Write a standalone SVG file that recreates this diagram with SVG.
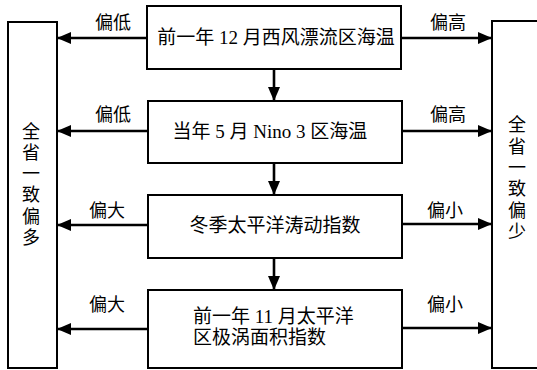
<svg xmlns="http://www.w3.org/2000/svg" width="537" height="370" viewBox="0 0 537 370">
<style>
.box{fill:#fff;stroke:#000;stroke-width:2}
.t{font-family:"Liberation Serif","Noto Sans CJK SC",serif;font-size:18px;fill:#000}
.b{font-size:19px}
.c{text-anchor:middle}
.conn line{stroke:#000;stroke-width:2.6}
</style>
<defs>
<marker id="ah" markerWidth="14" markerHeight="12" refX="13" refY="6" orient="auto" markerUnits="userSpaceOnUse">
<path d="M0,0 L14,6 L0,12 Z" fill="#000"/>
</marker>
</defs>
<rect width="537" height="370" fill="#fff"/>
<g id="left">
<rect class="box" x="8" y="22" width="49" height="346"/>
<text class="t c" x="31" y="138">全</text>
<text class="t c" x="31" y="159">省</text>
<text class="t c" x="31" y="180">一</text>
<text class="t c" x="31" y="201">致</text>
<text class="t c" x="31" y="223">偏</text>
<text class="t c" x="31" y="244">多</text>
</g>
<g id="right">
<rect class="box" x="492" y="21" width="50" height="347"/>
<text class="t c" x="517" y="131">全</text>
<text class="t c" x="517" y="153">省</text>
<text class="t c" x="517" y="174">一</text>
<text class="t c" x="517" y="195">致</text>
<text class="t c" x="517" y="217">偏</text>
<text class="t c" x="517" y="238">少</text>
</g>
<g id="n1">
<rect class="box" x="147" y="6" width="254" height="63"/>
<text class="t b c" x="276" y="44">前一年 12 月西风漂流区海温</text>
</g>
<g id="n2">
<rect class="box" x="148" y="101" width="254" height="62"/>
<text class="t b c" x="270" y="138">当年 5 月 Nino 3 区海温</text>
</g>
<g id="n3">
<rect class="box" x="148" y="195" width="254" height="63"/>
<text class="t b c" x="275" y="232">冬季太平洋涛动指数</text>
</g>
<g id="n4">
<rect class="box" x="148" y="290" width="254" height="78"/>
<text class="t b" x="193" y="323">前一年 11 月太平洋</text>
<text class="t b" x="193" y="344">区极涡面积指数</text>
</g>
<g id="connectors" class="conn">
<line x1="147" y1="38" x2="58" y2="38" marker-end="url(#ah)"/>
<line x1="148" y1="131" x2="58" y2="131" marker-end="url(#ah)"/>
<line x1="148" y1="225" x2="58" y2="225" marker-end="url(#ah)"/>
<line x1="148" y1="329" x2="58" y2="329" marker-end="url(#ah)"/>
<line x1="401" y1="38" x2="491" y2="38" marker-end="url(#ah)"/>
<line x1="402" y1="131" x2="491" y2="131" marker-end="url(#ah)"/>
<line x1="402" y1="224" x2="491" y2="224" marker-end="url(#ah)"/>
<line x1="402" y1="328" x2="491" y2="328" marker-end="url(#ah)"/>
<line x1="274" y1="69" x2="274" y2="100" marker-end="url(#ah)"/>
<line x1="274" y1="163" x2="274" y2="194" marker-end="url(#ah)"/>
<line x1="274" y1="258" x2="274" y2="289" marker-end="url(#ah)"/>
<text class="t c" x="113" y="29">偏低</text>
<text class="t c" x="113" y="121">偏低</text>
<text class="t c" x="448" y="29">偏高</text>
<text class="t c" x="448" y="121">偏高</text>
<text class="t c" x="107" y="217">偏大</text>
<text class="t c" x="107" y="311">偏大</text>
<text class="t c" x="445" y="217">偏小</text>
<text class="t c" x="445" y="311">偏小</text>
</g>
</svg>
